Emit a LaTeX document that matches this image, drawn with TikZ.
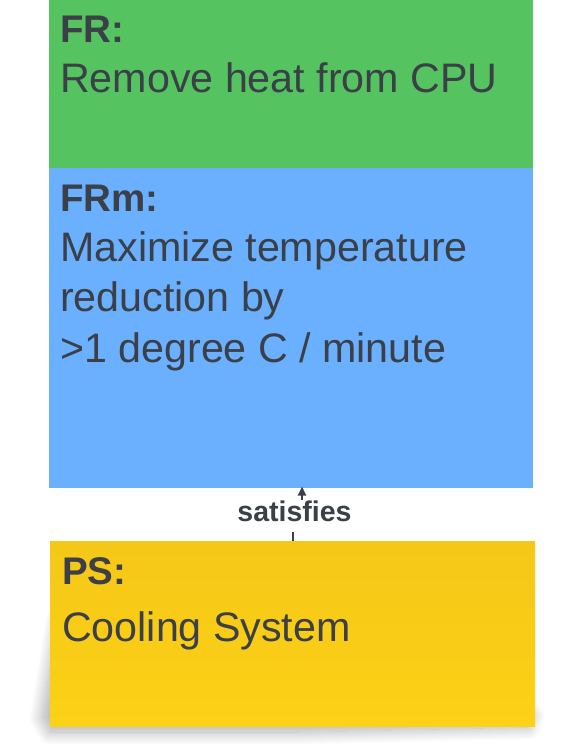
\documentclass[tikz,border=0pt]{standalone}
\usepackage{fontspec}
\setmainfont{Liberation Sans}
\usetikzlibrary{arrows.meta,shadows.blur}
\definecolor{frgreen}{HTML}{55C35F}
\definecolor{frmblue}{HTML}{6AB0FE}
\definecolor{psytop}{HTML}{F5C718}
\definecolor{psybot}{HTML}{FCD116}
\definecolor{ink}{HTML}{3A3F48}
\tikzset{
  box/.style={draw=none, inner sep=0, outer sep=0, anchor=north west},
  head/.style={font=\fontsize{38.5bp}{46bp}\selectfont\bfseries, text=ink, inner sep=0, anchor=base west},
  body/.style={font=\fontsize{41.2bp}{50bp}\selectfont, text=ink, inner sep=0, anchor=base west},
  link/.style={draw=ink, line width=2.2bp, -{Triangle[width=8bp,length=9bp]}},
  linklabel/.style={font=\fontsize{28.5bp}{30bp}\selectfont\bfseries, text=ink, fill=white, anchor=base, inner xsep=2bp, inner ysep=0, text height=22bp, text depth=10bp}
}
\begin{document}
\begin{tikzpicture}[x=1bp, y=-1bp]
\useasboundingbox (0,0) rectangle (583,746);
% soft shadow under the PS note
\path[blur shadow={shadow xshift=0bp, shadow yshift=0bp, shadow blur radius=13bp, shadow blur steps=20, shadow opacity=32}]
  (58,620) -- (42,718) -- (50,732) -- (300,732) -- (528,727) -- (532,716) -- cycle;
% boxes
\node[box, fill=frgreen, minimum width=484bp, minimum height=168bp] (fr) at (49,0) {};
\node[box, fill=frmblue, minimum width=484bp, minimum height=319.5bp] (frm) at (49,168) {};
\node[box, top color=psytop, bottom color=psybot, minimum width=485bp, minimum height=185bp] (ps) at (50,541) {};
% texts
\node[head] (frh) at (60,42.7) {FR:};
\node[body] (frt) at (60,92.7) {Remove heat from CPU};
\node[head] (frmh) at (60,211.7) {FRm:};
\node[body] (frmt1) at (60,261.7) {Maximize temperature};
\node[body] (frmt2) at (60,311.7) {reduction by};
\node[body] (frmt3) at (60,362) {>1 degree C / minute};
\node[head] (psh) at (62,584.3) {PS:};
\node[body] (pst) at (62,641.7) {Cooling System};
% connector
\draw[link] ([xshift=0.5bp]ps.north) -- ++(0,-26) -| ([xshift=11bp,yshift=1bp]frm.south);
\node[linklabel] (sat) at (294.5,521.7) {satisfies};
\end{tikzpicture}
\end{document}
